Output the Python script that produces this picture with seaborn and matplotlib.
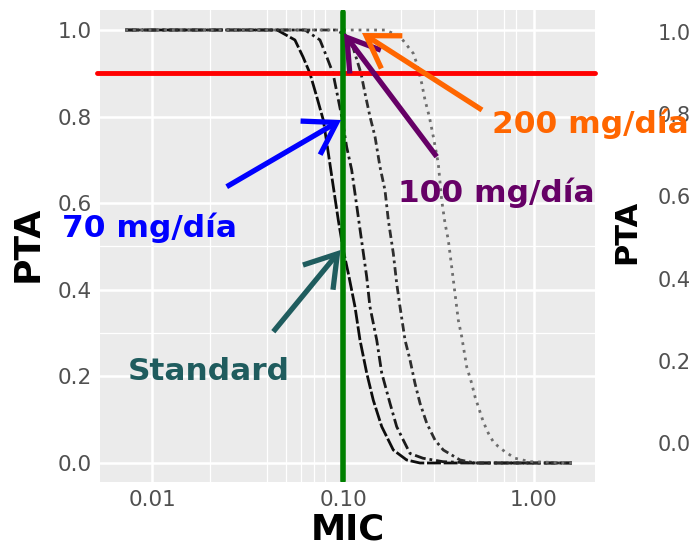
import numpy as np
import pandas as pd
import matplotlib
matplotlib.use("Agg")
import matplotlib.pyplot as plt
from matplotlib.ticker import NullFormatter
import seaborn as sns

# ---------------- data ----------------
regimens = ["Standard", "70 mg/día", "100 mg/día", "200 mg/día"]

mic_standard = [0.0072, 0.02, 0.045, 0.0558, 0.0615, 0.0669, 0.0726, 0.0786, 0.0835,
                0.0887, 0.0942, 0.100, 0.1063, 0.1152, 0.1224, 0.1327, 0.1437, 0.1591,
                0.183, 0.215, 0.2525, 0.5, 1.0, 1.58]
pta_standard = [1.0, 1.0, 1.0, 0.977, 0.938, 0.90, 0.846, 0.792, 0.716,
                0.638, 0.561, 0.492, 0.438, 0.361, 0.284, 0.208, 0.145, 0.084,
                0.03, 0.007, 0.0, 0.0, 0.0, 0.0]

mic_70 = [0.0072, 0.02, 0.063, 0.0755, 0.0819, 0.0884, 0.0982, 0.1042, 0.1107, 0.1152,
          0.1224, 0.1327, 0.138, 0.1498, 0.1591, 0.1758, 0.1906, 0.2064, 0.2239,
          0.2618, 0.3334, 0.5, 1.0, 1.58]
pta_70 = [1.0, 1.0, 1.0, 0.977, 0.938, 0.90, 0.80, 0.73, 0.677, 0.623,
          0.54, 0.43, 0.361, 0.284, 0.208, 0.138, 0.084, 0.053, 0.022,
          0.011, 0.003, 0.0, 0.0, 0.0]

mic_100 = [0.0072, 0.02, 0.0905, 0.1021, 0.1125, 0.1239, 0.1300, 0.1381, 0.1467, 0.1558,
           0.1655, 0.1723, 0.1830, 0.1906, 0.1984, 0.2108, 0.2239, 0.2377, 0.2526,
           0.2739, 0.3027, 0.3346, 0.4093, 0.4906, 1.0, 1.58]
pta_100 = [1.0, 1.0, 1.0, 0.99, 0.96, 0.90, 0.854, 0.80, 0.754, 0.684,
           0.63, 0.561, 0.484, 0.415, 0.361, 0.284, 0.238, 0.184, 0.138,
           0.092, 0.053, 0.03, 0.007, 0.0, 0.0, 0.0]

mic_200 = [0.0072, 0.02, 0.1655, 0.183, 0.1984, 0.2329, 0.2427, 0.2578, 0.2684, 0.2826,
           0.2965, 0.3149, 0.3281, 0.3415, 0.3554, 0.3776, 0.401, 0.4178, 0.4438,
           0.4714, 0.4906, 0.5105, 0.5423, 0.576, 0.6117, 0.6499, 0.7047, 0.7951,
           0.9528, 1.58]
pta_200 = [1.0, 1.0, 1.0, 0.992, 0.985, 0.946, 0.923, 0.877, 0.838, 0.80,
           0.754, 0.692, 0.607, 0.554, 0.515, 0.423, 0.33, 0.292, 0.222,
           0.184, 0.153, 0.13, 0.095, 0.069, 0.049, 0.038, 0.026, 0.011,
           0.003, 0.0]

breakpoint_mic = 0.1
target_pta = 0.9

x_major = [0.01, 0.1, 1.0]
x_major_labels = ["0.01", "0.10", "1.00"]
x_minor = [0.02, 0.04, 0.05, 0.06, 0.07, 0.08, 0.2, 0.3, 0.5, 0.7, 0.8]
y_major = [0.0, 0.2, 0.4, 0.6, 0.8, 1.0]
y_major_labels = ["0.0", "0.2", "0.4", "0.6", "0.8", "1.0"]
y_minor = [0.3, 0.5]

# ---------------- figure ----------------
sns.set_theme(style="white")
plt.rcParams["font.family"] = ["DejaVu Sans"]

W, H = 697, 547
fig = plt.figure(figsize=(W / 100, H / 100), dpi=100)
fig.patch.set_facecolor("white")


def fx(px):
    return px / W


def fy(py):
    return 1 - py / H


ax = fig.add_axes([fx(100), fy(482), fx(595) - fx(100), fy(10) - fy(482)])
ax.set_facecolor("#EBEBEB")
for s in ax.spines.values():
    s.set_visible(False)

df = pd.concat([
    pd.DataFrame({"MIC": m, "PTA": p, "Regimen": r})
    for m, p, r in [(mic_standard, pta_standard, regimens[0]),
                    (mic_70, pta_70, regimens[1]),
                    (mic_100, pta_100, regimens[2]),
                    (mic_200, pta_200, regimens[3])]
], ignore_index=True)

palette = {regimens[0]: "#0d0d0d", regimens[1]: "#1a1a1a",
           regimens[2]: "#2e2e2e", regimens[3]: "#6e6e6e"}
dashes = {regimens[0]: (5, 1.0), regimens[1]: (4, 1.4, 1, 1.4),
          regimens[2]: (1, 1.4, 3, 1.4), regimens[3]: (1, 1.8)}

ax.set_xscale("log")
sns.lineplot(data=df, x="MIC", y="PTA", hue="Regimen", style="Regimen",
             palette=palette, dashes=dashes, estimator=None, sort=False,
             legend=False, lw=2.0, ax=ax, zorder=3)

ax.set_xlim(10 ** -2.2752, 10 ** 0.3198)
ax.set_ylim(-0.0439, 1.0462)

ax.set_xticks(x_major)
ax.set_xticklabels(x_major_labels)
ax.set_xticks(x_minor, minor=True)
ax.xaxis.set_minor_formatter(NullFormatter())
ax.set_yticks(y_major)
ax.set_yticklabels(y_major_labels)
ax.set_yticks(y_minor, minor=True)

ax.set_axisbelow(True)
ax.grid(which="major", color="white", lw=1.8)
ax.grid(which="minor", color="white", lw=0.9)
ax.tick_params(which="major", length=4, width=1, color="#444444",
               labelcolor="#505050", labelsize=15.5, pad=2)
ax.tick_params(which="minor", length=0)

ax.set_xlabel("MIC", fontsize=25.5, fontweight="bold", color="black")
ax.xaxis.set_label_coords(fx(347.5), fy(540), transform=fig.transFigure)
ax.xaxis.label.set_verticalalignment("baseline")
ax.set_ylabel("PTA", fontsize=26, fontweight="bold", color="black")
ax.yaxis.set_label_coords(fx(28), fy(244), transform=fig.transFigure)
ax.yaxis.label.set_verticalalignment("center")

# reference lines
ax.axhline(target_pta, xmin=-0.006, xmax=1.0, color="#FF0000", lw=3.5,
           clip_on=False, zorder=5)
ax.axvline(breakpoint_mic, ymin=0.002, ymax=0.996, color="#008000", lw=4,
           zorder=6)

# ---------------- annotations ----------------
ann_font = dict(fontsize=22.5, fontweight="bold", ha="left", va="baseline",
                zorder=12)
fig.text(fx(62), fy(237), "70 mg/día", color="#0000FF", **ann_font)
fig.text(fx(128), fy(380), "Standard", color="#1F5C5E", **ann_font)
fig.text(fx(398), fy(202), "100 mg/día", color="#660066", **ann_font)
fig.text(fx(492), fy(133), "200 mg/día", color="#FF6600", **ann_font)

arrows = [
    ((226.7, 186.7), (341.0, 120.0), "#0000FF"),
    ((273.3, 331.7), (340.5, 250.0), "#1F5C5E"),
    ((436.7, 156.7), (344.0, 33.5), "#660066"),
    ((482.0, 110.0), (362.0, 33.0), "#FF6600"),
]
for (tx, ty), (hx, hy), c in arrows:
    ax.annotate("", xy=(fx(hx), fy(hy)), xytext=(fx(tx), fy(ty)),
                xycoords="figure fraction", textcoords="figure fraction",
                arrowprops=dict(arrowstyle="->,head_length=1.1,head_width=0.7",
                                lw=3.8, color=c, shrinkA=0, shrinkB=0,
                                mutation_scale=20, joinstyle="miter",
                                capstyle="butt"),
                zorder=10)

# ---------------- neighbouring panel (cut off at the right edge) ----------------
ax2 = fig.add_axes([fx(699), fy(463.5), 0.3, fy(11.5) - fy(463.5)])
ax2.set_facecolor("#EBEBEB")
for s in ax2.spines.values():
    s.set_visible(False)
ax2.set_ylim(-0.05, 1.05)
ax2.set_yticks(y_major)
ax2.set_yticklabels(y_major_labels)
ax2.set_xticks([])
ax2.tick_params(axis="y", length=4, width=1, color="#444444",
                labelcolor="#505050", labelsize=15, pad=2)
ax2.set_ylabel("PTA", fontsize=22, fontweight="bold", color="black")
ax2.yaxis.set_label_coords(fx(627), fy(232), transform=fig.transFigure)
ax2.yaxis.label.set_verticalalignment("center")

fig.savefig("out.png", dpi=100)
